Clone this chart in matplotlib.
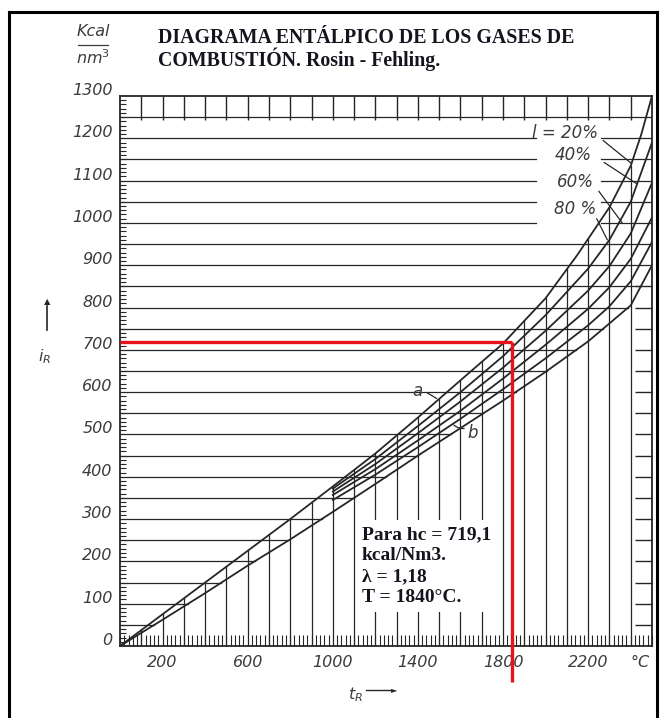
import numpy as np
import matplotlib.pyplot as plt
from matplotlib.lines import Line2D

# diagrama entalpico de los gases de combustion (Rosin - Fehling)
# temperaturas en grados C, entalpias en kcal/Nm3

# curva superior (desde el origen)
temp_a = [0, 200, 400, 600, 800, 1000, 1200, 1400, 1600, 1800, 2000, 2150, 2300, 2400, 2450, 2500]
enth_a = [0, 75, 150, 225, 300, 377, 455, 540, 628, 715, 822, 925, 1037, 1135, 1210, 1300]

# curva inferior (desde el origen)
temp_b = [0, 200, 400, 600, 800, 1000, 1200, 1400, 1600, 1800, 2000, 2200, 2400, 2500]
enth_b = [0, 62, 125, 190, 252, 317, 383, 450, 515, 580, 648, 720, 805, 900]

# curvas intermedias del haz (disociacion)
temp_band = [1000, 1200, 1400, 1600, 1800, 2000, 2200, 2300, 2400, 2500]
enth_c2 = [372, 442, 520, 600, 685, 782, 892, 960, 1050, 1190]
enth_c3 = [365, 430, 503, 578, 658, 745, 840, 898, 975, 1095]
enth_c4 = [357, 418, 486, 556, 632, 712, 797, 848, 915, 1013]
enth_c5 = [345, 405, 470, 537, 607, 680, 758, 803, 862, 955]

x_ticks = [200, 600, 1000, 1400, 1800, 2200]
y_ticks = list(range(0, 1301, 100))

# punto de trabajo
hc = 719.1
t_llama = 1840

ink = '#262626'
num_color = '#3c3c3c'

fig = plt.figure(figsize=(6.65, 7.18), dpi=100)
W, H = 665.0, 718.0
ax = fig.add_axes([120 / W, 1 - 646 / H, 532 / W, 550 / H])
ax.set_xlim(0, 2500)
ax.set_ylim(0, 1300)

# lineas verticales cada 100 C hasta la curva superior
for t in range(100, 2500, 100):
    top = np.interp(t, temp_a, enth_a)
    ax.plot([t, t], [0, top], color=ink, lw=0.9, zorder=1)

# lineas horizontales cada 50 kcal hasta la curva inferior
for h in range(50, 1300, 50):
    if h < enth_b[-1]:
        end = np.interp(h, enth_b, temp_b)
    else:
        end = 2500
    if 1000 <= h <= 1200:
        ax.plot([0, 1955], [h, h], color=ink, lw=0.9, zorder=1)
        ax.plot([2260, 2500], [h, h], color=ink, lw=0.9, zorder=1)
    else:
        ax.plot([0, end], [h, h], color=ink, lw=0.9, zorder=1)

# curvas
ax.plot(temp_a, enth_a, color=ink, lw=1.3, zorder=2)
ax.plot(temp_b, enth_b, color=ink, lw=1.3, zorder=2)
for enth in [enth_c2, enth_c3, enth_c4, enth_c5]:
    ax.plot(temp_band, enth, color=ink, lw=1.3, zorder=2)

# marco y escalas
for s in ax.spines.values():
    s.set_color(ink)
    s.set_linewidth(1.3)
ax.set_xticks(x_ticks)
ax.set_xticklabels([])
ax.set_yticks(y_ticks)
ax.set_yticklabels([])
ax.tick_params(axis='both', which='major', length=0)
ax.set_xticks(np.arange(0, 2501, 20), minor=True)
ax.set_yticks(np.arange(0, 1301, 10), minor=True)
ax.tick_params(axis='x', which='minor', direction='in', length=8, width=0.8,
               color=ink, bottom=True, top=False)
ax.tick_params(axis='y', which='minor', direction='in', length=4, width=0.8,
               color=ink, left=True, right=False)

sec_top = ax.secondary_xaxis('top')
top_ticks = list(range(100, 2500, 100))
sec_top.set_xticks(top_ticks)
sec_top.set_xticklabels([''] * len(top_ticks))
sec_top.tick_params(direction='in', length=17, width=1.0, color=ink)
sec_top.spines['top'].set_visible(False)

sec_right = ax.secondary_yaxis('right')
right_ticks = list(range(50, 900, 50))
sec_right.set_yticks(right_ticks)
sec_right.set_yticklabels([''] * len(right_ticks))
sec_right.tick_params(direction='in', length=12, width=1.0, color=ink)
sec_right.spines['right'].set_visible(False)

num_font = dict(family='DejaVu Sans', style='italic', fontsize=11.5, color=num_color)
ytr = ax.get_yaxis_transform()
for v in y_ticks:
    ax.text(-0.014, v + 13, str(v), transform=ytr, ha='right', va='center', **num_font)
xtr = ax.get_xaxis_transform()
for v in x_ticks:
    ax.text(v, -0.03, str(v), transform=xtr, ha='center', va='center', **num_font)
ax.text(2443, -0.03, '°C', transform=xtr, ha='center', va='center', **num_font)

# rotulos de las curvas
lab_font = dict(family='DejaVu Sans', style='italic', fontsize=12, color=num_color)
ax.text(2090, 1213, 'l = 20%', ha='center', va='center', **lab_font)
ax.text(2130, 1160, '40%', ha='center', va='center', **lab_font)
ax.text(2140, 1096, '60%', ha='center', va='center', **lab_font)
ax.text(2140, 1034, '80 %', ha='center', va='center', **lab_font)
leader = dict(arrowstyle='-', color=ink, lw=0.9, shrinkA=0, shrinkB=0)
ax.annotate('', xy=(2405, 1140), xytext=(2270, 1195), arrowprops=leader)
ax.annotate('', xy=(2430, 1092), xytext=(2275, 1143), arrowprops=leader)
ax.annotate('', xy=(2360, 1000), xytext=(2250, 1075), arrowprops=leader)
ax.annotate('', xy=(2290, 960), xytext=(2240, 1010), arrowprops=leader)

ax.text(1400, 603, 'a', ha='center', va='center', **lab_font)
ax.annotate('', xy=(1488, 585), xytext=(1445, 598), arrowprops=leader)
ax.text(1655, 503, 'b', ha='center', va='center', **lab_font)
ax.annotate('', xy=(1560, 527), xytext=(1630, 515),
            arrowprops=dict(arrowstyle='-', color=ink, lw=0.9,
                            connectionstyle='arc3,rad=-0.3'))

# lineas del punto de trabajo
red = '#e8141c'
ax.plot([0, t_llama], [hc, hc], color=red, lw=2.4, zorder=5, solid_capstyle='butt')
ax.plot([t_llama, t_llama], [hc, -85], color=red, lw=2.4, zorder=5,
        solid_capstyle='butt', clip_on=False)

ax.text(1137, 284, 'Para hc = 719,1\nkcal/Nm3.\nλ = 1,18\nT = 1840°C.',
        family='Liberation Serif', fontweight='bold', fontsize=14, color='#14141f',
        ha='left', va='top', linespacing=1.32, zorder=4,
        bbox=dict(boxstyle='square,pad=0.3', facecolor='white', edgecolor='none'))

# titulo y unidades
fig.text(158 / W, 1 - 38 / H, 'DIAGRAMA ENTÁLPICO DE LOS GASES DE',
         family='Liberation Serif', fontweight='bold', fontsize=14.3, color='#14141f',
         ha='left', va='center')
fig.text(158 / W, 1 - 59 / H, 'COMBUSTIÓN. Rosin - Fehling.',
         family='Liberation Serif', fontweight='bold', fontsize=14.3, color='#14141f',
         ha='left', va='center')
fig.text(93 / W, 1 - 32 / H, 'Kcal', ha='center', va='center', **num_font)
fig.text(93 / W, 1 - 58 / H, 'nm$^3$', ha='center', va='center', **num_font)
fig.add_artist(Line2D([78 / W, 108 / W], [1 - 45 / H, 1 - 45 / H], color=num_color, lw=0.9))

# ejes: i_R y t_R
fig.text(45 / W, 1 - 357 / H, '$i_R$', ha='center', va='center', **num_font)
fig.add_artist(Line2D([47 / W, 47 / W], [1 - 330 / H, 1 - 306 / H], color=ink, lw=1.2))
fig.text(47 / W, 1 - 302 / H, '▲', ha='center', va='center', fontsize=6, color=ink)
fig.text(355 / W, 1 - 695 / H, '$t_R$', ha='center', va='center', **num_font)
fig.add_artist(Line2D([366 / W, 392 / W], [1 - 690 / H, 1 - 690 / H], color=ink, lw=1.0))
fig.text(394 / W, 1 - 690 / H, '►', ha='center', va='center', fontsize=6, color=ink)

# recuadro exterior
for xs, ys in [([9, 657], [12, 12]), ([657, 657], [12, 718]), ([9, 9], [12, 718])]:
    fig.add_artist(Line2D([x / W for x in xs], [1 - y / H for y in ys],
                          color='black', lw=2.2))

fig.savefig('out.png', dpi=100)
